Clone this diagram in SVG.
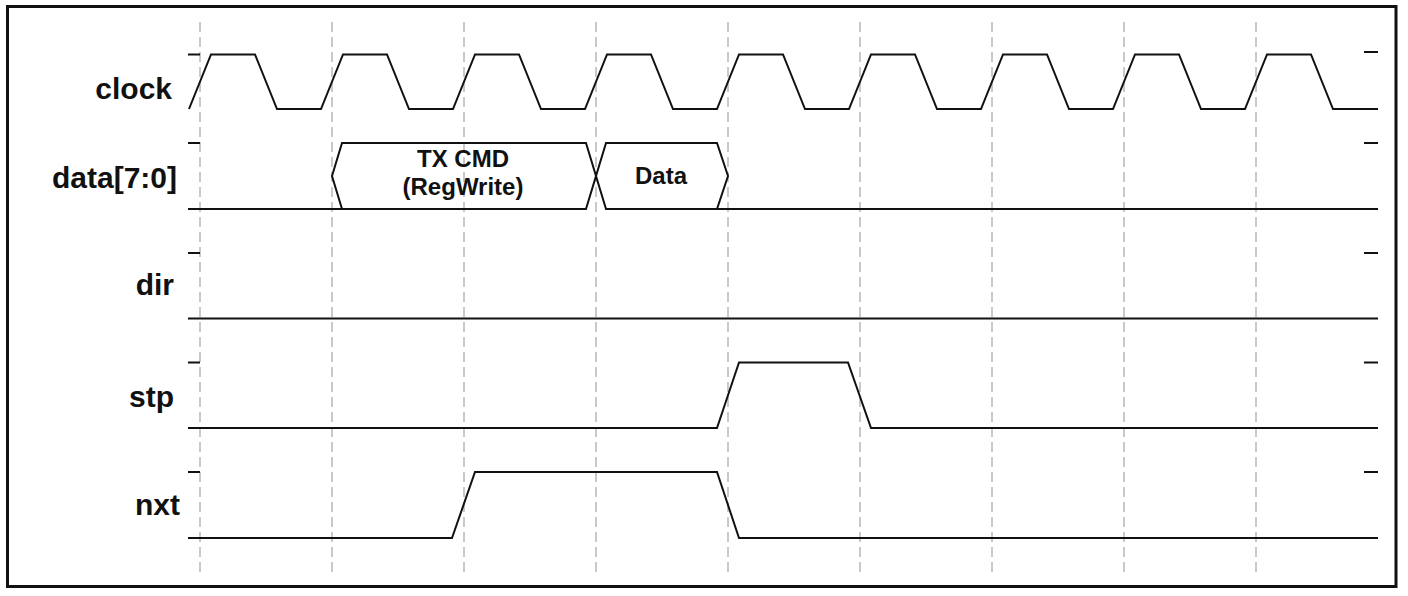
<svg xmlns="http://www.w3.org/2000/svg" width="1408" height="596" viewBox="0 0 1408 596">
  <style>
    .frame { fill: #fff; stroke: #111; stroke-width: 3; }
    .grid { stroke: #c4c4c4; stroke-width: 1.8; stroke-dasharray: 10 5; fill: none; }
    .wave { stroke: #111; stroke-width: 2; fill: none; stroke-linejoin: miter; }
    .tick { stroke: #111; stroke-width: 2; fill: none; }
    .label { font-family: "Liberation Sans", Arial, sans-serif; font-weight: bold; font-size: 30px; fill: #111; text-anchor: end; }
    .bus { font-family: "Liberation Sans", Arial, sans-serif; font-weight: bold; font-size: 24px; fill: #111; text-anchor: middle; }
  </style>
  <rect class="frame" x="7.5" y="6.5" width="1388.5" height="580"/>
  <g id="grid">
    <line class="grid" x1="200" y1="22" x2="200" y2="572"/>
    <line class="grid" x1="332" y1="22" x2="332" y2="572"/>
    <line class="grid" x1="464" y1="22" x2="464" y2="572"/>
    <line class="grid" x1="596" y1="22" x2="596" y2="572"/>
    <line class="grid" x1="728" y1="22" x2="728" y2="572"/>
    <line class="grid" x1="860" y1="22" x2="860" y2="572"/>
    <line class="grid" x1="992" y1="22" x2="992" y2="572"/>
    <line class="grid" x1="1124" y1="22" x2="1124" y2="572"/>
    <line class="grid" x1="1256" y1="22" x2="1256" y2="572"/>
  </g>
  <g id="clock">
    <text class="label" x="172" y="99">clock</text>
    <line class="tick" x1="188" y1="54.5" x2="200" y2="54.5"/>
    <line class="tick" x1="1364" y1="52" x2="1378" y2="52"/>
    <polyline class="wave" points="189,109 211,54.5 255,54.5 277,109 321,109 343,54.5 387,54.5 409,109 453,109 475,54.5 519,54.5 541,109 585,109 607,54.5 651,54.5 673,109 717,109 739,54.5 783,54.5 805,109 849,109 871,54.5 915,54.5 937,109 981,109 1003,54.5 1047,54.5 1069,109 1113,109 1135,54.5 1179,54.5 1201,109 1245,109 1267,54.5 1311,54.5 1333,109 1378,109"/>
  </g>
  <g id="data">
    <text class="label" x="177" y="188">data[7:0]</text>
    <line class="tick" x1="188" y1="143" x2="200" y2="143"/>
    <line class="tick" x1="1364" y1="143" x2="1378" y2="143"/>
    <line class="wave" x1="188" y1="209" x2="342" y2="209"/>
    <polygon class="wave" points="332,176 342,143 586,143 596,176 586,209 342,209"/>
    <polygon class="wave" points="596,176 606,143 717,143 728,176 717,209 606,209"/>
    <line class="wave" x1="717" y1="209" x2="1378" y2="209"/>
    <text class="bus" x="463" y="167">TX CMD</text>
    <text class="bus" x="463" y="195">(RegWrite)</text>
    <text class="bus" x="661" y="184">Data</text>
  </g>
  <g id="dir">
    <text class="label" x="174" y="295">dir</text>
    <line class="tick" x1="188" y1="253" x2="200" y2="253"/>
    <line class="tick" x1="1364" y1="253" x2="1378" y2="253"/>
    <line class="wave" x1="188" y1="318.5" x2="1378" y2="318.5"/>
  </g>
  <g id="stp">
    <text class="label" x="174" y="407">stp</text>
    <line class="tick" x1="188" y1="362.5" x2="200" y2="362.5"/>
    <line class="tick" x1="1364" y1="362.5" x2="1378" y2="362.5"/>
    <polyline class="wave" points="188,428 717,428 739,362.5 848,362.5 871,428 1378,428"/>
  </g>
  <g id="nxt">
    <text class="label" x="180" y="515">nxt</text>
    <line class="tick" x1="188" y1="472" x2="200" y2="472"/>
    <line class="tick" x1="1364" y1="472" x2="1378" y2="472"/>
    <polyline class="wave" points="188,538 452,538 475,472 717,472 739,538 1378,538"/>
  </g>
</svg>
